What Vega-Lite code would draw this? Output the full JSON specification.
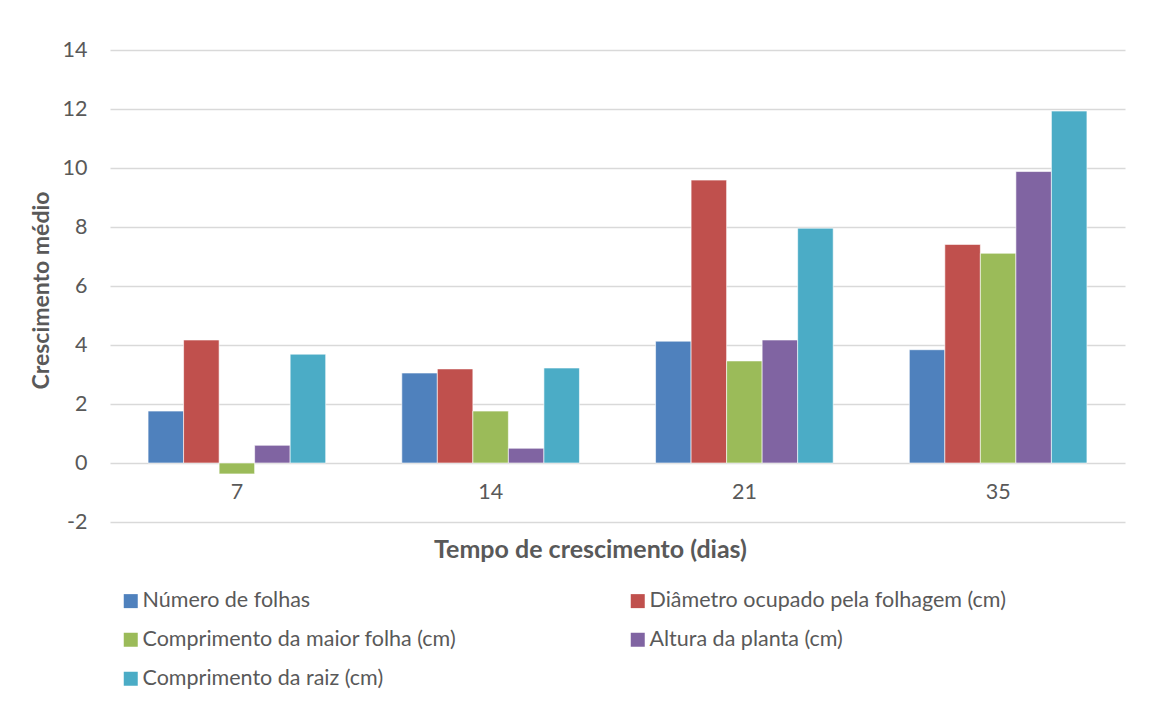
{
  "$schema": "https://vega.github.io/schema/vega-lite/v6.json",
  "autosize": {"type": "none"},
  "width": 1015,
  "height": 472,
  "padding": {"left": 110, "top": 50, "right": 39, "bottom": 180},
  "background": "white",
  "data": {
    "values": [
      {"dia": "7", "serie": "Número de folhas", "valor": 1.76},
      {"dia": "7", "serie": "Diâmetro ocupado pela folhagem (cm)", "valor": 4.17},
      {"dia": "7", "serie": "Comprimento da maior folha (cm)", "valor": -0.37},
      {"dia": "7", "serie": "Altura da planta (cm)", "valor": 0.6},
      {"dia": "7", "serie": "Comprimento da raiz (cm)", "valor": 3.69},
      {"dia": "14", "serie": "Número de folhas", "valor": 3.05},
      {"dia": "14", "serie": "Diâmetro ocupado pela folhagem (cm)", "valor": 3.19},
      {"dia": "14", "serie": "Comprimento da maior folha (cm)", "valor": 1.76},
      {"dia": "14", "serie": "Altura da planta (cm)", "valor": 0.5},
      {"dia": "14", "serie": "Comprimento da raiz (cm)", "valor": 3.22},
      {"dia": "21", "serie": "Número de folhas", "valor": 4.13},
      {"dia": "21", "serie": "Diâmetro ocupado pela folhagem (cm)", "valor": 9.59},
      {"dia": "21", "serie": "Comprimento da maior folha (cm)", "valor": 3.46},
      {"dia": "21", "serie": "Altura da planta (cm)", "valor": 4.17},
      {"dia": "21", "serie": "Comprimento da raiz (cm)", "valor": 7.96},
      {"dia": "35", "serie": "Número de folhas", "valor": 3.84},
      {"dia": "35", "serie": "Diâmetro ocupado pela folhagem (cm)", "valor": 7.41},
      {"dia": "35", "serie": "Comprimento da maior folha (cm)", "valor": 7.11},
      {"dia": "35", "serie": "Altura da planta (cm)", "valor": 9.88},
      {"dia": "35", "serie": "Comprimento da raiz (cm)", "valor": 11.93}
    ]
  },
  "mark": {"type": "bar", "stroke": "white", "strokeWidth": 0.6},
  "encoding": {
    "x": {
      "field": "dia",
      "type": "nominal",
      "sort": ["7", "14", "21", "35"],
      "scale": {"paddingInner": 0.3, "paddingOuter": 0.15},
      "axis": {
        "title": "Tempo de crescimento (dias)",
        "labelAngle": 0,
        "labelFont": "Lato",
        "labelFontSize": 21.5,
        "labelColor": "#595959",
        "labelPadding": -41,
        "ticks": false,
        "domain": false,
        "titleFont": "Lato",
        "titleFontSize": 25,
        "titleFontWeight": "bold",
        "titleColor": "#595959",
        "titleX": 480,
        "titleY": 27,
        "titleAlign": "center",
        "titleBaseline": "middle"
      }
    },
    "xOffset": {
      "field": "serie",
      "type": "nominal",
      "sort": ["Número de folhas", "Diâmetro ocupado pela folhagem (cm)", "Comprimento da maior folha (cm)", "Altura da planta (cm)", "Comprimento da raiz (cm)"],
      "scale": {"paddingInner": 0, "paddingOuter": 0}
    },
    "y": {
      "field": "valor",
      "type": "quantitative",
      "scale": {"domain": [-2, 14], "nice": false, "zero": false},
      "axis": {
        "title": "Crescimento médio",
        "values": [-2, 0, 2, 4, 6, 8, 10, 12, 14],
        "labelExpr": "datum.value < 0 ? '-' + abs(datum.value) : '' + datum.value",
        "grid": true,
        "gridColor": "#d9d9d9",
        "gridWidth": 1.5,
        "domain": false,
        "ticks": false,
        "labelFont": "Lato",
        "labelFontSize": 21.5,
        "labelColor": "#595959",
        "labelPadding": 23,
        "titleFont": "Lato",
        "titleFontSize": 23,
        "titleFontWeight": "bold",
        "titleColor": "#595959",
        "titleX": -69,
        "titleY": 240,
        "titleAngle": -90,
        "titleAlign": "center",
        "titleBaseline": "middle"
      }
    },
    "color": {
      "field": "serie",
      "type": "nominal",
      "sort": ["Número de folhas", "Diâmetro ocupado pela folhagem (cm)", "Comprimento da maior folha (cm)", "Altura da planta (cm)", "Comprimento da raiz (cm)"],
      "scale": {
        "domain": ["Número de folhas", "Diâmetro ocupado pela folhagem (cm)", "Comprimento da maior folha (cm)", "Altura da planta (cm)", "Comprimento da raiz (cm)"],
        "range": ["#4F81BD", "#C0504D", "#9BBB59", "#8064A2", "#4BACC6"]
      },
      "legend": {
        "title": null,
        "orient": "none",
        "legendX": 10,
        "legendY": 540,
        "direction": "horizontal",
        "columns": 2,
        "columnPadding": 170,
        "rowPadding": 16,
        "symbolType": "square",
        "symbolSize": 196,
        "symbolStrokeWidth": 0,
        "symbolOffset": 0,
        "labelOffset": 1,
        "labelFont": "Lato",
        "labelFontSize": 21.5,
        "labelColor": "#595959",
        "labelLimit": 500
      }
    }
  },
  "config": {
    "view": {"stroke": null}
  }
}
